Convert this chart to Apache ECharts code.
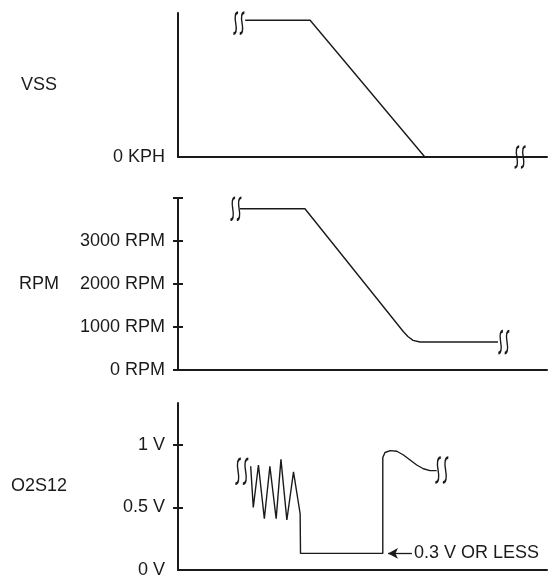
<!DOCTYPE html>
<html>
<head>
<meta charset="utf-8">
<script src="https://cdn.jsdelivr.net/npm/echarts@6/dist/echarts.min.js"></script>
<style>
html,body{margin:0;padding:0;background:#fff;}
#c{width:556px;height:588px;}
</style>
</head>
<body>
<div id="c"></div>
<script>
// ---- data ----
const panelNames = ['VSS', 'RPM', 'O2S12'];
const vssTime = [18.2, 35.8, 66.9];
const vssSpeed = [95, 95, 0];
const rpmTime = [16.8, 34.4, 61.1, 62.3, 63.7, 65.6, 86.7];
const rpmValue = [3750, 3750, 890, 780, 690, 650, 650];
const o2Time = [19.7, 20.4, 21.8, 23.4, 24.9, 26.6, 27.9, 29.5, 31.3, 33.1, 33.2, 55.5, 55.5, 56.1, 57.5, 59.3, 61.1, 62.9, 64.7, 66.5, 68.3, 70.1];
const o2Volt = [0.83, 0.5, 0.84, 0.41, 0.83, 0.41, 0.885, 0.40, 0.785, 0.45, 0.133, 0.133, 0.90, 0.94, 0.955, 0.95, 0.92, 0.88, 0.84, 0.81, 0.795, 0.795];
const vssLabels = [0];
const rpmTicks = [0, 1000, 2000, 3000, 4000];
const rpmLabels = [0, 1000, 2000, 3000];
const o2Ticks = [0.5, 1];
const o2Labels = [0, 0.5, 1];
const annotationText = '0.3 V OR LESS';
const annotationFrom = [56.9, 0.133];
const annotationTo = [63.4, 0.133];
// break marks (data coordinates)
const vssBreaks = [[16.5, 93], [92.7, 0]];
const rpmBreaks = [[15.7, 3750], [88.3, 650]];
const o2Breaks = [[17.3, 0.79], [71.5, 0.80]];

// ---- chart ----
const FONT = "'Liberation Sans', Arial, Helvetica, sans-serif";
const INK = '#1a1a1a';
const breakPath = 'path://M4.5,0 C2,0 1.5,4 2.5,10 C3.5,16 3,20 0.5,20 M10,0 C7.5,0 7,4 8,10 C9,16 8.5,20 6,20';

function zip(a, b) { return a.map((v, i) => [v, b[i]]); }
function breaks(list, size) {
  return {
    symbol: breakPath,
    symbolSize: size,
    silent: true,
    label: { show: false },
    itemStyle: { color: 'transparent', borderColor: INK, borderWidth: 1.9 },
    data: list.map(c => ({ coord: c }))
  };
}

const grids = [
  { left: 178, right: 9, top: 13, height: 144 },
  { left: 178, right: 9, top: 198, height: 172 },
  { left: 178, right: 9, top: 403, height: 167 }
];

const xAxes = [0, 1, 2].map(i => ({
  type: 'value', gridIndex: i, min: 0, max: 100,
  axisLine: { show: true, lineStyle: { color: INK, width: 2 } },
  axisTick: { show: false }, axisLabel: { show: false }, splitLine: { show: false }
}));

function mainY(i, min, max, labels, ticks, unit) {
  return {
    type: 'value', gridIndex: i, min: min, max: max, position: 'left',
    name: panelNames[i], nameLocation: 'middle', nameRotate: 0, nameGap: 139,
    nameTextStyle: { align: 'center', verticalAlign: 'middle', fontSize: 18, fontFamily: FONT, color: INK },
    axisLine: { show: true, onZero: false, lineStyle: { color: INK, width: 2 } },
    axisTick: ticks ? { show: true, customValues: ticks, length: 5, inside: false, lineStyle: { color: INK, width: 2 } } : { show: false },
    axisLabel: { show: true, customValues: labels, margin: 13, fontSize: 18, fontFamily: FONT, color: INK,
      formatter: v => v + ' ' + unit },
    splitLine: { show: false }
  };
}
function innerY(i, min, max, ticks) {
  return {
    type: 'value', gridIndex: i, min: min, max: max, position: 'left',
    axisLine: { show: false },
    axisTick: { show: true, customValues: ticks, length: 5, inside: true, lineStyle: { color: INK, width: 2 } },
    axisLabel: { show: false }, splitLine: { show: false }
  };
}

const yAxes = [
  mainY(0, 0, 100, vssLabels, null, 'KPH'),
  mainY(1, 0, 4000, rpmLabels, rpmTicks, 'RPM'),
  innerY(1, 0, 4000, rpmTicks),
  mainY(2, 0, 1.336, o2Labels, o2Ticks, 'V'),
  innerY(2, 0, 1.336, o2Ticks)
];

const lineBase = {
  type: 'line', showSymbol: false, symbol: 'none', smooth: false, silent: true,
  lineStyle: { color: INK, width: 1.4 }, animation: false
};

const option = {
  animation: false,
  backgroundColor: '#fff',
  grid: grids,
  xAxis: xAxes,
  yAxis: yAxes,
  series: [
    Object.assign({}, lineBase, { xAxisIndex: 0, yAxisIndex: 0, data: zip(vssTime, vssSpeed),
      markPoint: breaks(vssBreaks, [11, 21]) }),
    Object.assign({}, lineBase, { xAxisIndex: 1, yAxisIndex: 1, data: zip(rpmTime, rpmValue),
      markPoint: breaks(rpmBreaks, [11, 22]) }),
    Object.assign({}, lineBase, { xAxisIndex: 2, yAxisIndex: 3, data: zip(o2Time, o2Volt),
      markPoint: breaks(o2Breaks, [13, 25]),
      markLine: {
        silent: true, animation: false,
        symbol: ['arrow', 'none'], symbolSize: [8, 10],
        lineStyle: { color: INK, width: 1.3, type: 'solid' },
        label: { show: true, position: 'end', distance: 2, formatter: annotationText,
          fontSize: 18, fontFamily: FONT, color: INK },
        emphasis: { disabled: true },
        data: [[{ coord: annotationFrom }, { coord: annotationTo }]]
      } })
  ]
};

const chart = echarts.init(document.getElementById('c'), null, { renderer: 'canvas' });
chart.setOption(option);
</script>
</body>
</html>
